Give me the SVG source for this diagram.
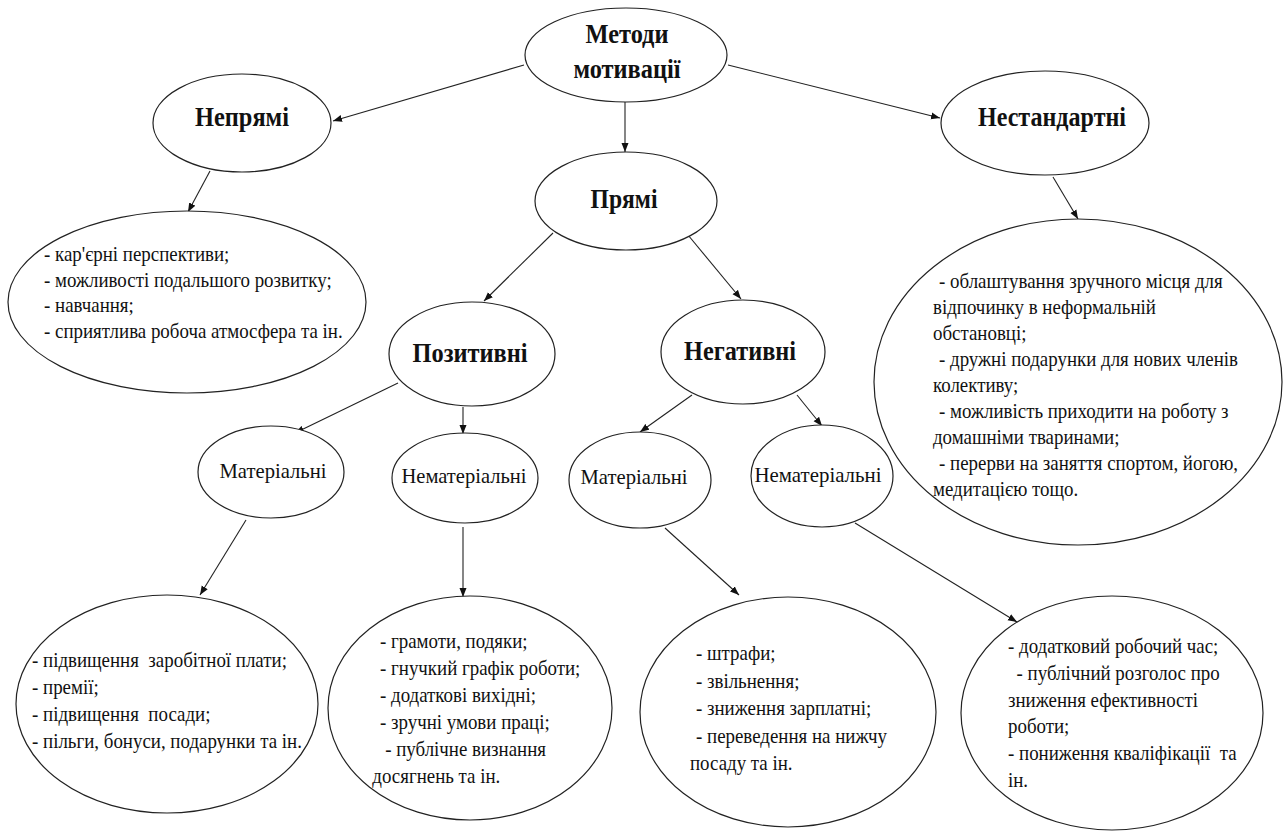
<svg xmlns="http://www.w3.org/2000/svg" width="1285" height="831" viewBox="0 0 1285 831">
<defs>
<style>
.n{fill:#fff;stroke:#222;stroke-width:1.2}
.c{stroke:#222;stroke-width:1.1;fill:none;marker-end:url(#ah)}
text{font-family:'Liberation Serif','Times New Roman',serif;fill:#111}
.b{font-weight:bold;font-size:27px;text-anchor:middle}
.m{font-size:21px;text-anchor:middle}
.l{font-size:22px;white-space:pre}
</style>
<marker id="ah" markerUnits="userSpaceOnUse" markerWidth="10" markerHeight="8" refX="9" refY="4" orient="auto">
<path d="M0,0.5 L9,4 L0,7.5 Z" fill="#111"/>
</marker>
</defs>
<rect width="1285" height="831" fill="#fff"/>
<g id="connectors">
<line class="c" x1="524" y1="65" x2="333" y2="121"/>
<line class="c" x1="625" y1="102" x2="625" y2="152"/>
<line class="c" x1="728" y1="65" x2="940" y2="118"/>
<line class="c" x1="210" y1="171" x2="188" y2="212"/>
<line class="c" x1="1053" y1="177" x2="1078" y2="219"/>
<line class="c" x1="553" y1="233" x2="484" y2="301"/>
<line class="c" x1="688" y1="235" x2="741" y2="299"/>
<line class="c" x1="398" y1="383" x2="295" y2="433"/>
<line class="c" x1="463" y1="407" x2="463" y2="434"/>
<line class="c" x1="692" y1="395" x2="640" y2="432"/>
<line class="c" x1="797" y1="395" x2="822" y2="426"/>
<line class="c" x1="246" y1="520" x2="200" y2="595"/>
<line class="c" x1="463" y1="527" x2="463" y2="597"/>
<line class="c" x1="665" y1="528" x2="739" y2="595"/>
<line class="c" x1="855" y1="523" x2="1017" y2="622"/>
</g>
<g id="n-methods">
<ellipse class="n" cx="626" cy="55" rx="101" ry="47"/>
<text class="b" x="627" y="43" textLength="83" lengthAdjust="spacingAndGlyphs">Методи</text>
<text class="b" x="627" y="78" textLength="107" lengthAdjust="spacingAndGlyphs">мотивації</text>
</g>
<g id="n-indirect">
<ellipse class="n" cx="242" cy="123" rx="89" ry="49"/>
<text class="b" x="242" y="126" textLength="94" lengthAdjust="spacingAndGlyphs">Непрямі</text>
</g>
<g id="n-direct">
<ellipse class="n" cx="626" cy="201" rx="91" ry="49"/>
<text class="b" x="624" y="208" textLength="67" lengthAdjust="spacingAndGlyphs">Прямі</text>
</g>
<g id="n-nonstandard">
<ellipse class="n" cx="1045" cy="123" rx="104" ry="52"/>
<text class="b" x="1052" y="126" textLength="148" lengthAdjust="spacingAndGlyphs">Нестандартні</text>
</g>
<g id="n-positive">
<ellipse class="n" cx="472" cy="354" rx="83" ry="52"/>
<text class="b" x="470" y="362" textLength="115" lengthAdjust="spacingAndGlyphs">Позитивні</text>
</g>
<g id="n-negative">
<ellipse class="n" cx="743" cy="352" rx="82" ry="52"/>
<text class="b" x="740" y="360" textLength="112" lengthAdjust="spacingAndGlyphs">Негативні</text>
</g>
<g id="n-pos-material">
<ellipse class="n" cx="271" cy="472" rx="73" ry="46"/>
<text class="m" x="273" y="478" textLength="107" lengthAdjust="spacingAndGlyphs">Матеріальні</text>
</g>
<g id="n-pos-nonmaterial">
<ellipse class="n" cx="465" cy="478" rx="73" ry="45"/>
<text class="m" x="464" y="483" textLength="125" lengthAdjust="spacingAndGlyphs">Нематеріальні</text>
</g>
<g id="n-neg-material">
<ellipse class="n" cx="640" cy="480" rx="71" ry="48"/>
<text class="m" x="634" y="484" textLength="107" lengthAdjust="spacingAndGlyphs">Матеріальні</text>
</g>
<g id="n-neg-nonmaterial">
<ellipse class="n" cx="822" cy="476" rx="71" ry="51"/>
<text class="m" x="818" y="482" textLength="127" lengthAdjust="spacingAndGlyphs">Нематеріальні</text>
</g>
<g id="n-indirect-list">
<ellipse class="n" cx="187" cy="302" rx="179" ry="91"/>
<g transform="translate(44,0) scale(0.86,1)">
<text class="l" x="0" y="261">- кар'єрні перспективи;</text>
<text class="l" x="0" y="287">- можливості подальшого розвитку;</text>
<text class="l" x="0" y="312">- навчання;</text>
<text class="l" x="0" y="338">- сприятлива робоча атмосфера та ін.</text>
</g>
</g>
<g id="n-nonstandard-list">
<ellipse class="n" cx="1078" cy="382" rx="204" ry="163"/>
<g transform="translate(933,0) scale(0.86,1)">
<text class="l" x="7" y="288">- облаштування зручного місця для</text>
<text class="l" x="0" y="314">відпочинку в неформальній</text>
<text class="l" x="0" y="340">обстановці;</text>
<text class="l" x="7" y="366">- дружні подарунки для нових членів</text>
<text class="l" x="0" y="392">колективу;</text>
<text class="l" x="7" y="418">- можливість приходити на роботу з</text>
<text class="l" x="0" y="444">домашніми тваринами;</text>
<text class="l" x="7" y="470">- перерви на заняття спортом, йогою,</text>
<text class="l" x="0" y="496">медитацією тощо.</text>
</g>
</g>
<g id="n-pos-material-list">
<ellipse class="n" cx="167" cy="704" rx="151" ry="109"/>
<g transform="translate(32,0) scale(0.86,1)">
<text class="l" x="0" y="667">- підвищення  заробітної плати;</text>
<text class="l" x="0" y="694">- премії;</text>
<text class="l" x="0" y="721">- підвищення  посади;</text>
<text class="l" x="0" y="748">- пільги, бонуси, подарунки та ін.</text>
</g>
</g>
<g id="n-pos-nonmaterial-list">
<ellipse class="n" cx="470" cy="708" rx="142" ry="112"/>
<g transform="translate(380,0) scale(0.86,1)">
<text class="l" x="0" y="648">- грамоти, подяки;</text>
<text class="l" x="0" y="675">- гнучкий графік роботи;</text>
<text class="l" x="0" y="702">- додаткові вихідні;</text>
<text class="l" x="0" y="729">- зручні умови праці;</text>
<text class="l" x="6" y="756">- публічне визнання</text>
<text class="l" x="-9" y="783">досягнень та ін.</text>
</g>
</g>
<g id="n-neg-material-list">
<ellipse class="n" cx="788" cy="712" rx="148" ry="115"/>
<g transform="translate(696,0) scale(0.86,1)">
<text class="l" x="0" y="660">- штрафи;</text>
<text class="l" x="0" y="688">- звільнення;</text>
<text class="l" x="0" y="715">- зниження зарплатні;</text>
<text class="l" x="0" y="743">- переведення на нижчу</text>
<text class="l" x="-7" y="770">посаду та ін.</text>
</g>
</g>
<g id="n-neg-nonmaterial-list">
<ellipse class="n" cx="1112" cy="713" rx="151" ry="117"/>
<g transform="translate(1008,0) scale(0.86,1)">
<text class="l" x="0" y="653">- додатковий робочий час;</text>
<text class="l" x="10" y="680">- публічний розголос про</text>
<text class="l" x="0" y="707">зниження ефективності</text>
<text class="l" x="0" y="733">роботи;</text>
<text class="l" x="0" y="760">- пониження кваліфікації  та</text>
<text class="l" x="0" y="787">ін.</text>
</g>
</g>
</svg>
